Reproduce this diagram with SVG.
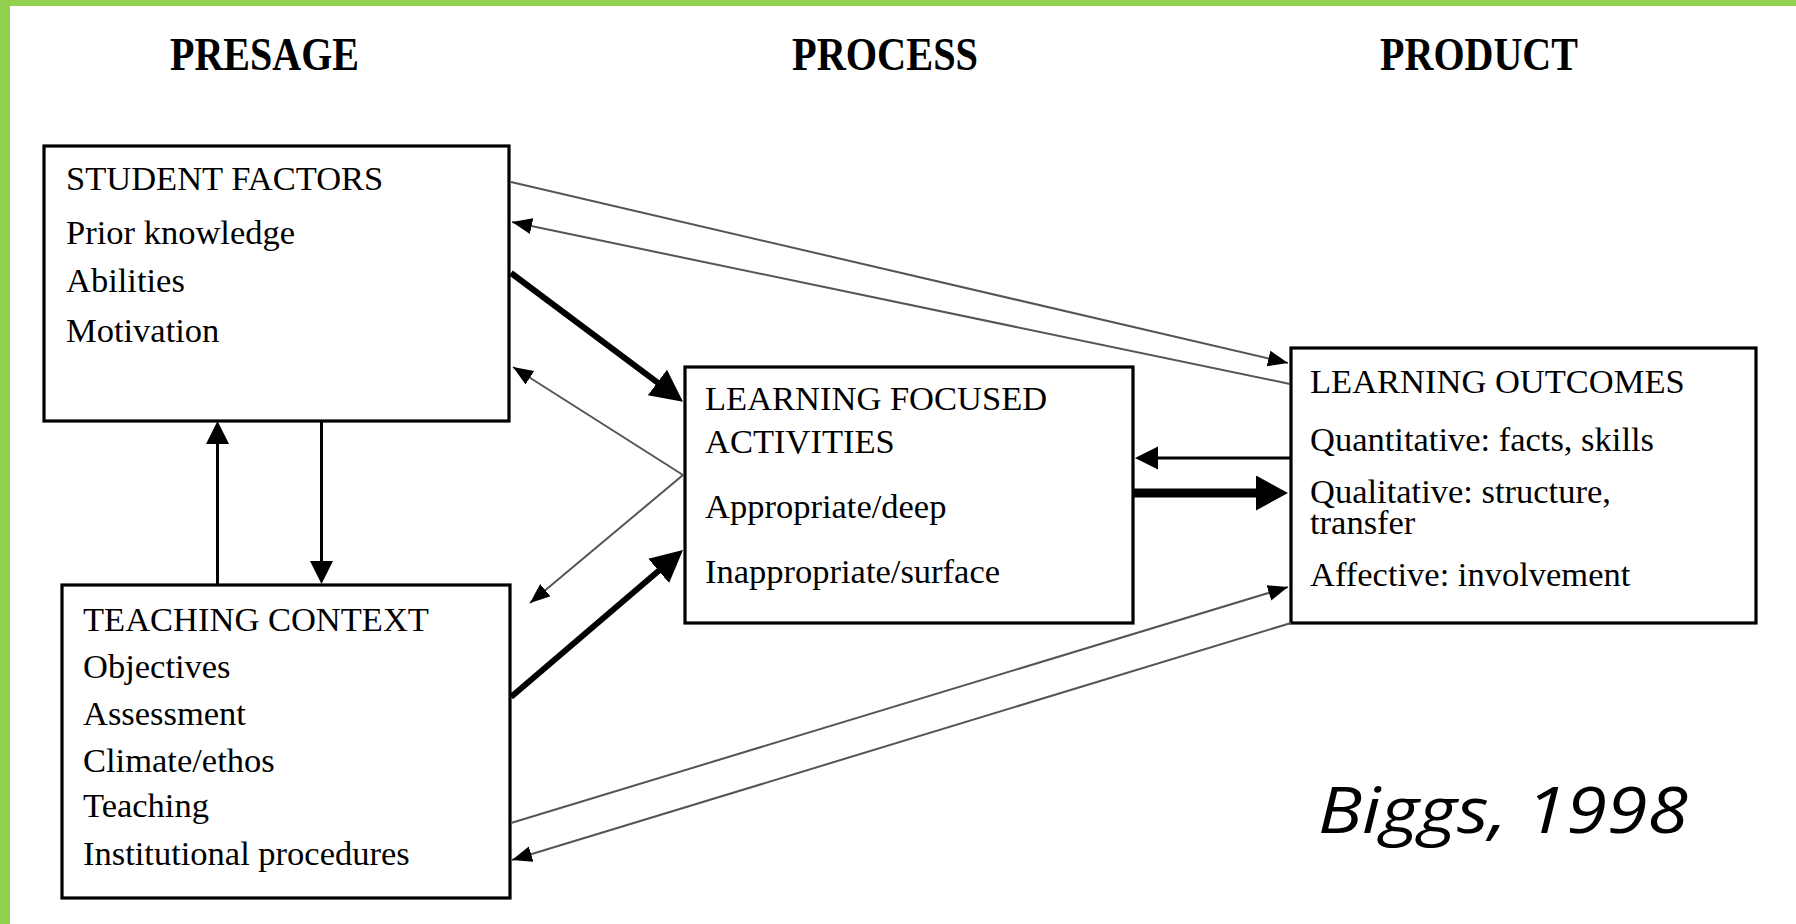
<svg xmlns="http://www.w3.org/2000/svg" width="1796" height="924" viewBox="0 0 1796 924">
<style>
.box{fill:#fff;stroke:#000;stroke-width:3.2}
.hd{font-family:"Liberation Serif","Times New Roman",serif;font-weight:bold;font-size:46px;fill:#000}
.t{font-family:"Liberation Serif","Times New Roman",serif;font-size:34.5px;fill:#000}
.thin{stroke:#555;stroke-width:2;fill:none}
.thick{stroke:#000;stroke-width:6;fill:none}
.thick2{stroke:#000;stroke-width:9;fill:none}
.med{stroke:#000;stroke-width:3;fill:none}
.cite{font-family:"Open Sans","DejaVu Sans",sans-serif;font-style:italic;font-size:64px;fill:#000}
</style>
<defs>
<marker id="aThin" markerUnits="userSpaceOnUse" markerWidth="22" markerHeight="18" refX="20" refY="8" orient="auto">
<path d="M0,0 L20,8 L0,16 Z" fill="#000"/>
</marker>
<marker id="aMed" markerUnits="userSpaceOnUse" markerWidth="25" markerHeight="25" refX="18" refY="11.5" orient="auto">
<path d="M0,0 L23,11.5 L0,23 Z" fill="#000"/>
</marker>
<marker id="aThick" markerUnits="userSpaceOnUse" markerWidth="34" markerHeight="34" refX="22" refY="16" orient="auto">
<path d="M0,0 L32,16 L0,32 Z" fill="#000"/>
</marker>
<marker id="aThickH" markerUnits="userSpaceOnUse" markerWidth="34" markerHeight="37" refX="22" refY="17.5" orient="auto">
<path d="M0,0 L32,17.5 L0,35 Z" fill="#000"/>
</marker>
</defs>
<rect x="0" y="0" width="1796" height="924" fill="#fff"/>
<rect x="0" y="0" width="1796" height="6" fill="#92D050"/>
<rect x="0" y="0" width="10" height="924" fill="#92D050"/>

<g id="headers">
<text class="hd" x="170" y="70" textLength="189" lengthAdjust="spacingAndGlyphs">PRESAGE</text>
<text class="hd" x="792" y="70" textLength="186" lengthAdjust="spacingAndGlyphs">PROCESS</text>
<text class="hd" x="1380" y="70" textLength="198" lengthAdjust="spacingAndGlyphs">PRODUCT</text>
</g>

<g id="student-factors">
<rect class="box" x="44" y="146" width="465" height="275"/>
<text class="t" x="66" y="190">STUDENT FACTORS</text>
<text class="t" x="66" y="244">Prior knowledge</text>
<text class="t" x="66" y="292">Abilities</text>
<text class="t" x="66" y="342">Motivation</text>
</g>

<g id="teaching-context">
<rect class="box" x="62" y="585" width="448" height="313"/>
<text class="t" x="83" y="631">TEACHING CONTEXT</text>
<text class="t" x="83" y="678">Objectives</text>
<text class="t" x="83" y="725">Assessment</text>
<text class="t" x="83" y="772">Climate/ethos</text>
<text class="t" x="83" y="817">Teaching</text>
<text class="t" x="83" y="865">Institutional procedures</text>
</g>

<g id="learning-activities">
<rect class="box" x="685" y="367" width="448" height="256"/>
<text class="t" x="705" y="410">LEARNING FOCUSED</text>
<text class="t" x="705" y="453">ACTIVITIES</text>
<text class="t" x="705" y="518">Appropriate/deep</text>
<text class="t" x="705" y="583">Inappropriate/surface</text>
</g>

<g id="learning-outcomes">
<rect class="box" x="1291" y="348" width="465" height="275"/>
<text class="t" x="1310" y="393">LEARNING OUTCOMES</text>
<text class="t" x="1310" y="451">Quantitative: facts, skills</text>
<text class="t" x="1310" y="503">Qualitative: structure,</text>
<text class="t" x="1310" y="534">transfer</text>
<text class="t" x="1310" y="586">Affective: involvement</text>
</g>

<g id="connectors">
<line class="thin" x1="511" y1="182" x2="1288" y2="363" marker-end="url(#aThin)"/>
<line class="thin" x1="1290" y1="384" x2="512" y2="222" marker-end="url(#aThin)"/>
<line class="thin" x1="683" y1="475" x2="513" y2="367" marker-end="url(#aThin)"/>
<line class="thin" x1="683" y1="475" x2="530" y2="603" marker-end="url(#aThin)"/>
<line class="thin" x1="511" y1="823" x2="1288" y2="587" marker-end="url(#aThin)"/>
<line class="thin" x1="1291" y1="623" x2="512" y2="860" marker-end="url(#aThin)"/>
<line class="thick" x1="511" y1="273" x2="675" y2="395.7" marker-end="url(#aThick)"/>
<line class="thick" x1="511" y1="697" x2="675.4" y2="556.5" marker-end="url(#aThick)"/>
<line class="thick2" x1="1134" y1="493" x2="1278" y2="493" marker-end="url(#aThickH)"/>
<line class="med" x1="1290" y1="458" x2="1140" y2="458" marker-end="url(#aMed)"/>
<line class="med" x1="217.5" y1="585" x2="217.5" y2="426" marker-end="url(#aMed)"/>
<line class="med" x1="321.5" y1="421" x2="321.5" y2="579" marker-end="url(#aMed)"/>
</g>

<g id="citation">
<text class="cite" x="1318" y="833" textLength="370" lengthAdjust="spacingAndGlyphs">Biggs, 1998</text>
</g>
</svg>
